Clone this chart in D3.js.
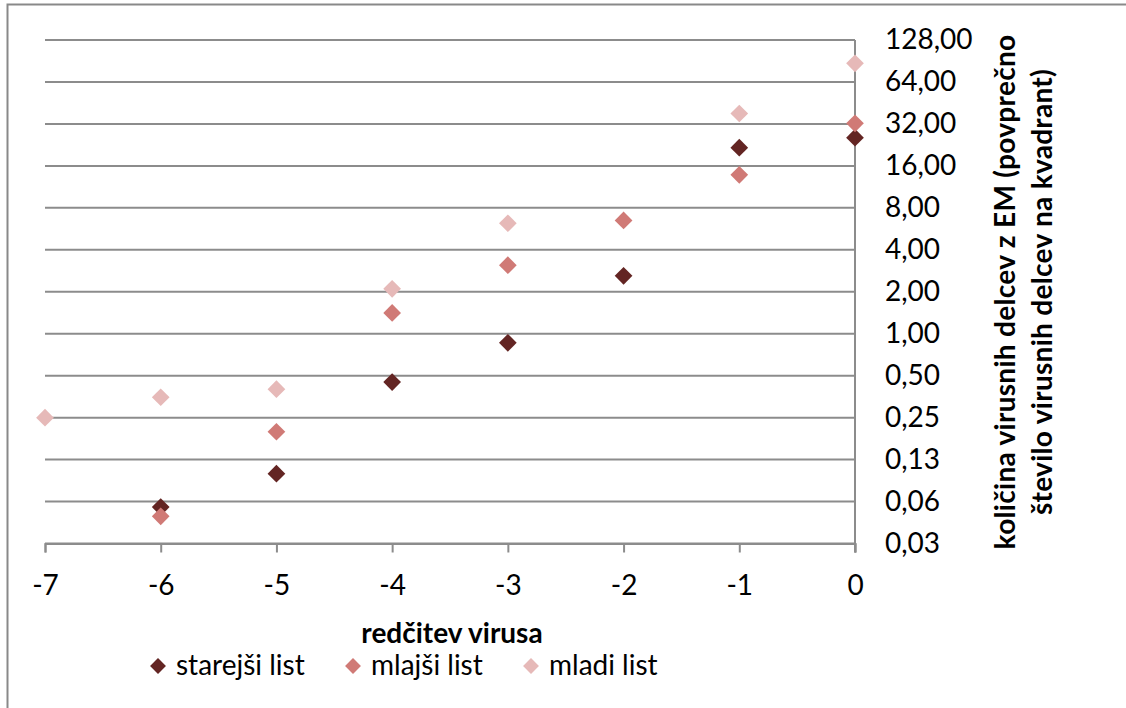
<!DOCTYPE html>
<html>
<head>
<meta charset="utf-8">
<script src="https://cdn.jsdelivr.net/npm/d3@7"></script>
<style>
  body { margin: 0; background: #fff; }
  svg text { font-family: Lato, "Noto Sans", sans-serif; fill: #000; }
</style>
</head>
<body>
<div id="chart"></div>
<script>
"use strict";

// dilution steps (log10)
var dilutions = [-7, -6, -5, -4, -3, -2, -1, 0];

// series values, null = no point
var starejsiList = [null, 0.057, 0.099, 0.45, 0.86, 2.6, 21.6, 25.5];
var mlajsiList = [null, 0.049, 0.198, 1.41, 3.1, 6.5, 13.8, 32.3];
var mladiList = [0.25, 0.35, 0.40, 2.1, 6.2, null, 38, 87];

var yTicks = [0.03125, 0.0625, 0.125, 0.25, 0.5, 1, 2, 4, 8, 16, 32, 64, 128];
var yTickLabels = ["0,03", "0,06", "0,13", "0,25", "0,50", "1,00", "2,00",
  "4,00", "8,00", "16,00", "32,00", "64,00", "128,00"];

var seriesNames = ["starejši list", "mlajši list", "mladi list"];
var seriesColors = ["#632523", "#d07a76", "#e6b9b8"];

var width = 1126, height = 708;
var margin = { left: 45, right: 271, top: 40, bottom: 164.5 };

var svg = d3.select("#chart").append("svg")
  .attr("width", width)
  .attr("height", height);

// chart frame (only top/left edges visible in the crop)
svg.append("rect")
  .attr("x", 7.5).attr("y", 4.5)
  .attr("width", 1200).attr("height", 800)
  .attr("fill", "none")
  .attr("stroke", "#898989")
  .attr("stroke-width", 2);

var x = d3.scaleLinear()
  .domain([-7, 0])
  .range([margin.left, width - margin.right]);

var y = d3.scaleLog().base(2)
  .domain([0.03125, 128])
  .range([height - margin.bottom, margin.top]);

// gridlines
svg.append("g")
  .selectAll("line")
  .data(yTicks)
  .enter().append("line")
  .attr("x1", x(-7)).attr("x2", x(0))
  .attr("y1", function (d) { return y(d); })
  .attr("y2", function (d) { return y(d); })
  .attr("stroke", "#8c8c8c")
  .attr("stroke-width", 2);

// x axis
var xAxis = svg.append("g")
  .attr("transform", "translate(0," + y(0.03125) + ")")
  .call(d3.axisBottom(x).tickValues(dilutions).tickFormat(d3.format("d")).tickSize(9).tickPadding(23));
xAxis.select(".domain").attr("stroke", "#8c8c8c").attr("stroke-width", 2);
xAxis.selectAll(".tick line").attr("stroke", "#8c8c8c").attr("stroke-width", 2);
xAxis.selectAll("text").style("font-size", "28px").attr("fill", "#000")
  .text(function (d) { return d < 0 ? "-" + Math.abs(d) : d; });

// y axis on the right, drawn at x = 0
var yAxis = svg.append("g")
  .attr("transform", "translate(" + x(0) + ",0)")
  .call(d3.axisRight(y).tickValues(yTicks)
    .tickFormat(function (d, i) { return yTickLabels[i]; })
    .tickSize(0).tickPadding(30));
yAxis.select(".domain").attr("stroke", "#8c8c8c").attr("stroke-width", 2)
  .attr("d", "M0," + y(128) + "V" + (y(0.03125) + 9));
yAxis.selectAll("text").style("font-size", "28px").attr("fill", "#000");

// markers
var diamond = d3.symbol().type(d3.symbolDiamond2).size(200);
var allSeries = [starejsiList, mlajsiList, mladiList];

allSeries.forEach(function (values, si) {
  var pts = dilutions.map(function (d, i) { return { x: d, v: values[i] }; })
    .filter(function (p) { return p.v != null; });
  svg.append("g")
    .selectAll("path")
    .data(pts)
    .enter().append("path")
    .attr("d", diamond)
    .attr("transform", function (p) { return "translate(" + x(p.x) + "," + y(p.v) + ")"; })
    .attr("fill", seriesColors[si]);
});

// axis titles
svg.append("text")
  .attr("x", 452).attr("y", 643)
  .attr("text-anchor", "middle")
  .style("font-size", "28px").style("font-weight", "bold")
  .text("redčitev virusa");

var yTitle = svg.append("text")
  .attr("transform", "translate(1015,292) rotate(-90)")
  .attr("text-anchor", "middle")
  .style("font-size", "28px").style("font-weight", "bold")
  .style("letter-spacing", "0.3px");
yTitle.append("tspan").attr("x", 0).attr("y", 0)
  .text("količina virusnih delcev z EM (povprečno");
yTitle.append("tspan").attr("x", 0).attr("y", 37)
  .text("število virusnih delcev na kvadrant)");

// legend
var legendX = [158, 353, 531];
var legend = svg.append("g");
seriesNames.forEach(function (name, i) {
  legend.append("path")
    .attr("d", d3.symbol().type(d3.symbolDiamond2).size(160))
    .attr("transform", "translate(" + legendX[i] + ",666)")
    .attr("fill", seriesColors[i]);
  legend.append("text")
    .attr("x", legendX[i] + 18).attr("y", 675)
    .style("font-size", "28px")
    .text(name);
});
</script>
</body>
</html>
